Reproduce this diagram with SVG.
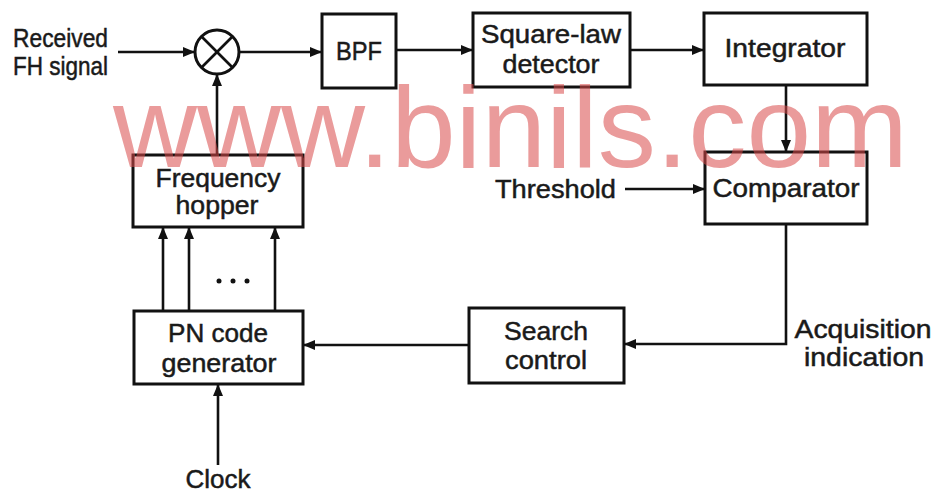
<svg xmlns="http://www.w3.org/2000/svg" width="936" height="493" viewBox="0 0 936 493">
<style>
.box{fill:none;stroke:#111;stroke-width:3}
.ln{fill:none;stroke:#111;stroke-width:2.6}
text{font-family:"Liberation Sans",Arial,sans-serif;font-size:26px;fill:#1a1a1a;stroke:#1a1a1a;stroke-width:0.5}
.c{text-anchor:middle}
.wm{font-size:115px;fill:#d94a4a;stroke:none;opacity:0.55}
</style>
<defs>
<marker id="ah" viewBox="0 0 12 10" refX="12" refY="5" markerWidth="12" markerHeight="10" markerUnits="userSpaceOnUse" orient="auto">
<path d="M0,0 L12,5 L0,10 Z" fill="#111"/>
</marker>
</defs>
<rect width="936" height="493" fill="#fff"/>

<g id="connectors">
<line class="ln" x1="118" y1="52" x2="195" y2="52" marker-end="url(#ah)"/>
<line class="ln" x1="239" y1="52" x2="322" y2="52" marker-end="url(#ah)"/>
<line class="ln" x1="396" y1="50" x2="473" y2="50" marker-end="url(#ah)"/>
<line class="ln" x1="630" y1="50" x2="704" y2="50" marker-end="url(#ah)"/>
<line class="ln" x1="786" y1="85" x2="786" y2="152" marker-end="url(#ah)"/>
<line class="ln" x1="625" y1="189" x2="705" y2="189" marker-end="url(#ah)"/>
<polyline class="ln" points="786,224 786,344 624,344" marker-end="url(#ah)"/>
<line class="ln" x1="469" y1="345" x2="303" y2="345" marker-end="url(#ah)"/>
<line class="ln" x1="217" y1="155" x2="217" y2="74" marker-end="url(#ah)"/>
<line class="ln" x1="163" y1="311" x2="163" y2="227" marker-end="url(#ah)"/>
<line class="ln" x1="189" y1="311" x2="189" y2="227" marker-end="url(#ah)"/>
<line class="ln" x1="275" y1="311" x2="275" y2="227" marker-end="url(#ah)"/>
<line class="ln" x1="218" y1="465" x2="218" y2="384" marker-end="url(#ah)"/>
</g>

<g id="input-label">
<text x="13" y="47" font-size="24" textLength="95" lengthAdjust="spacingAndGlyphs">Received</text>
<text x="13" y="75" font-size="24" textLength="95" lengthAdjust="spacingAndGlyphs">FH signal</text>
</g>

<g id="mixer">
<circle cx="217" cy="52" r="22" class="box"/>
<line class="ln" x1="201.5" y1="36.5" x2="232.5" y2="67.5"/>
<line class="ln" x1="232.5" y1="36.5" x2="201.5" y2="67.5"/>
</g>

<g id="bpf">
<rect class="box" x="322" y="14" width="74" height="74"/>
<text class="c" x="359" y="60" textLength="46" lengthAdjust="spacingAndGlyphs">BPF</text>
</g>

<g id="square-law">
<rect class="box" x="473" y="13" width="157" height="74"/>
<text class="c" x="551" y="43" textLength="140" lengthAdjust="spacingAndGlyphs">Square-law</text>
<text class="c" x="551" y="73" textLength="97" lengthAdjust="spacingAndGlyphs">detector</text>
</g>

<g id="integrator">
<rect class="box" x="704" y="13" width="163" height="72"/>
<text class="c" x="785" y="57" textLength="121" lengthAdjust="spacingAndGlyphs">Integrator</text>
</g>

<g id="comparator">
<rect class="box" x="705" y="152" width="162" height="72"/>
<text class="c" x="786" y="197" textLength="147" lengthAdjust="spacingAndGlyphs">Comparator</text>
</g>

<g id="threshold">
<text x="495" y="198" textLength="121" lengthAdjust="spacingAndGlyphs">Threshold</text>
</g>

<g id="frequency-hopper">
<rect class="box" x="133" y="155" width="170" height="72"/>
<text class="c" x="218" y="187" textLength="125" lengthAdjust="spacingAndGlyphs">Frequency</text>
<text class="c" x="217" y="214" textLength="83" lengthAdjust="spacingAndGlyphs">hopper</text>
</g>

<g id="dots">
<circle cx="219" cy="281" r="2.5" fill="#111"/>
<circle cx="233" cy="281" r="2.5" fill="#111"/>
<circle cx="247" cy="281" r="2.5" fill="#111"/>
</g>

<g id="pn-generator">
<rect class="box" x="134" y="311" width="169" height="73"/>
<text class="c" x="218" y="342" textLength="100" lengthAdjust="spacingAndGlyphs">PN code</text>
<text class="c" x="219" y="372" textLength="115" lengthAdjust="spacingAndGlyphs">generator</text>
</g>

<g id="search-control">
<rect class="box" x="469" y="308" width="155" height="75"/>
<text class="c" x="546" y="340" textLength="84" lengthAdjust="spacingAndGlyphs">Search</text>
<text class="c" x="546" y="369" textLength="82" lengthAdjust="spacingAndGlyphs">control</text>
</g>

<g id="acquisition">
<text class="c" x="863" y="338" textLength="137" lengthAdjust="spacingAndGlyphs">Acquisition</text>
<text class="c" x="864" y="366" textLength="120" lengthAdjust="spacingAndGlyphs">indication</text>
</g>

<g id="clock">
<text class="c" x="218" y="488" textLength="65" lengthAdjust="spacingAndGlyphs">Clock</text>
</g>

<g id="watermark">
<text class="wm" x="113" y="167" textLength="795" lengthAdjust="spacingAndGlyphs">www.binils.com</text>
</g>
</svg>
